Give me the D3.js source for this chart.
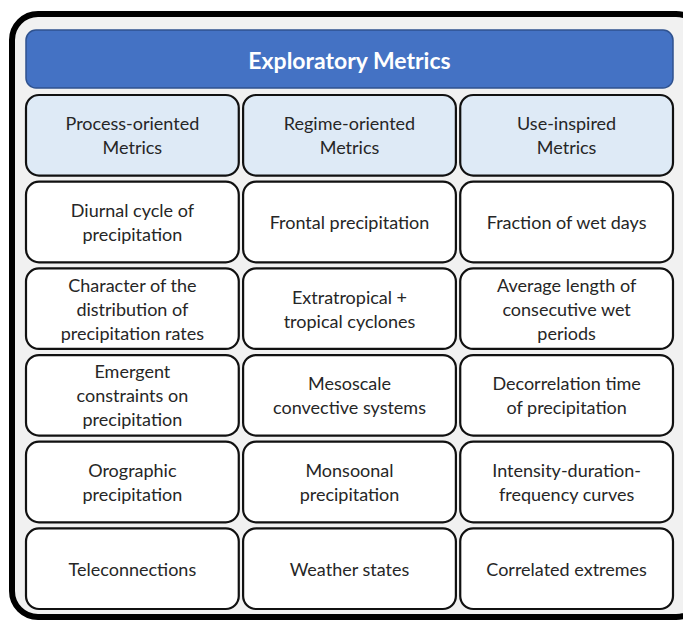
<!DOCTYPE html>
<html><head><meta charset="utf-8">
<script src="https://cdn.jsdelivr.net/npm/d3@7"></script>
<style>html,body{margin:0;padding:0;background:#fff;}svg{display:block;}</style>
</head><body>
<svg id="c" width="683" height="621"></svg>
<script>
const title = "Exploratory Metrics";
const columns = ["Process-oriented\nMetrics", "Regime-oriented\nMetrics", "Use-inspired\nMetrics"];
const processMetrics = ["Diurnal cycle of\nprecipitation", "Character of the\ndistribution of\nprecipitation rates", "Emergent\nconstraints on\nprecipitation", "Orographic\nprecipitation", "Teleconnections"];
const regimeMetrics = ["Frontal precipitation", "Extratropical +\ntropical cyclones", "Mesoscale\nconvective systems", "Monsoonal\nprecipitation", "Weather states"];
const useMetrics = ["Fraction of wet days", "Average length of\nconsecutive wet\nperiods", "Decorrelation time\nof precipitation", "Intensity-duration-\nfrequency curves", "Correlated extremes"];
const cellColumns = [processMetrics, regimeMetrics, useMetrics];

const svg = d3.select("#c");
const font = "Lato, 'Open Sans', sans-serif";

// outer frame
svg.append("rect").attr("x", 12).attr("y", 14).attr("width", 690).attr("height", 603)
  .attr("rx", 26).attr("fill", "#f1f1f1").attr("stroke", "#000").attr("stroke-width", 6);

const x = d3.scaleBand().domain(d3.range(3)).range([26, 673]).paddingInner(0.02);
const y = d3.scaleBand().domain(d3.range(6)).range([95, 609]).paddingInner(0.07);

// title bar
svg.append("rect").attr("x", 26).attr("y", 30).attr("width", 647).attr("height", 58)
  .attr("rx", 10).attr("fill", "#4472C4").attr("stroke", "#2F528F").attr("stroke-width", 1.5);
svg.append("text").attr("x", (26 + 673) / 2).attr("y", 60).attr("text-anchor", "middle")
  .attr("dominant-baseline", "central").attr("fill", "#fff").attr("font-family", font)
  .attr("font-weight", "bold").attr("font-size", 23).text(title);

const cells = [];
columns.forEach((c, i) => cells.push({col: i, row: 0, text: c, head: true}));
cellColumns.forEach((arr, i) => arr.forEach((t, j) => cells.push({col: i, row: j + 1, text: t, head: false})));

const g = svg.selectAll("g.cell").data(cells).join("g").attr("class", "cell")
  .attr("transform", d => `translate(${x(d.col)},${y(d.row)})`);
g.append("rect").attr("width", x.bandwidth()).attr("height", y.bandwidth())
  .attr("rx", 13).attr("fill", d => d.head ? "#DEEAF6" : "#fff")
  .attr("stroke", "#111").attr("stroke-width", 2.2);
g.each(function(d) {
  const lines = d.text.split("\n");
  const lh = 24;
  const cy = y.bandwidth() / 2;
  const t = d3.select(this).append("text").attr("text-anchor", "middle")
    .attr("font-family", font).attr("font-size", 18).attr("fill", "#262626");
  lines.forEach((l, k) => {
    t.append("tspan").attr("x", x.bandwidth() / 2)
      .attr("y", cy + (k - (lines.length - 1) / 2) * lh)
      .attr("dominant-baseline", "central").text(l);
  });
});
</script>
</body></html>
